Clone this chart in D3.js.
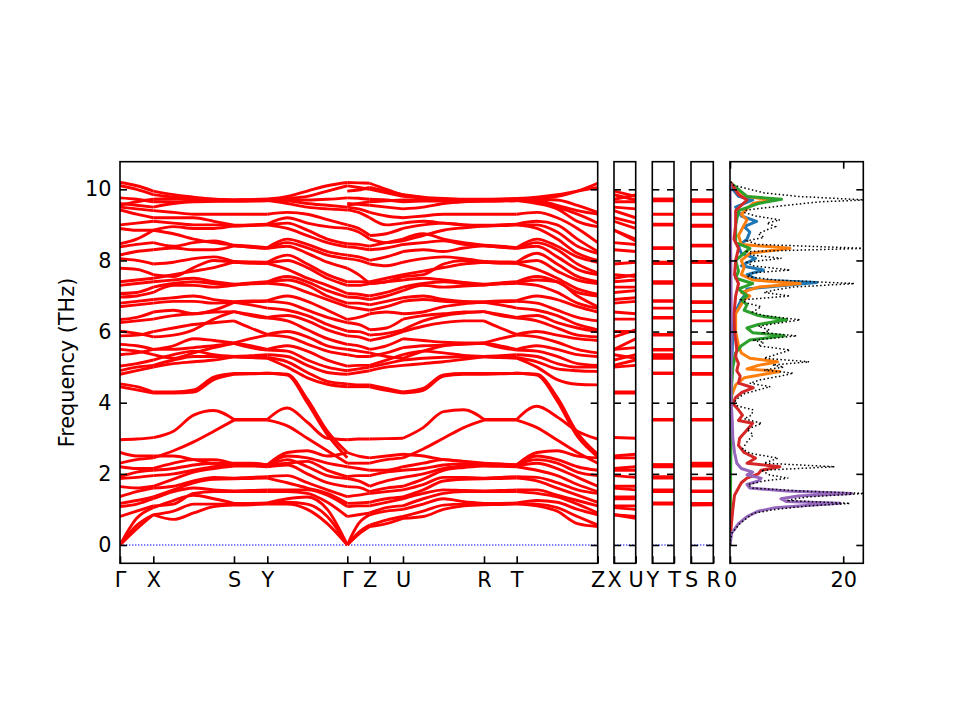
<!DOCTYPE html>
<html><head><meta charset="utf-8">
<script src="https://cdn.jsdelivr.net/npm/d3@7"></script>
<style>
body{margin:0;background:#fff}
svg{display:block}
</style>
</head><body>
<svg id="chart" width="960" height="720"></svg>
<script>
// ---------------- DATA ----------------
const pathLabels = ["Γ","X","S","Y","Γ","Z","U","R","T","Z"];
const pathTicks  = [0, 0.0697, 0.2386, 0.3084, 0.4758, 0.5227, 0.5924, 0.7620, 0.8304, 1.0];
const freqTicks  = [0, 2, 4, 6, 8, 10];
const dosTicks   = [0, 20];
const dosTickLabels = ["0", "20"];

// k-grid of the first half (Γ-X-S-Y-Γ) and the second half (Γ-Z-U-R-T-Z)
const kLeft  = [0, 0.0349, 0.0697, 0.1119, 0.1542, 0.1964, 0.2386, 0.2735, 0.3084, 0.3503, 0.3921, 0.4340, 0.4758];
const kRight = [0.4758, 0.4993, 0.5227, 0.5576, 0.5924, 0.6348, 0.6772, 0.7196, 0.7620, 0.7962, 0.8304, 0.8728, 0.9152, 0.9576, 1.0];
const segLeft  = [[0,2],[2,6],[6,8],[8,12]];
const segRight = [[0,2],[2,4],[4,8],[8,10],[10,14]];

// phonon bands (THz), first half
const bandsLeft = [
 [0,0.45,0.85,0.72,0.9,1.08,1.12,1.13,1.15,1.15,1.0,0.6,0],
 [0,0.55,0.85,0.95,1.15,1.15,1.15,1.16,1.17,1.2,1.15,0.8,0],
 [0,0.75,1.05,1.25,1.4,1.3,1.17,1.17,1.18,1.3,1.35,1.0,0],
 [0.8,0.95,1.1,1.15,1.45,1.5,1.5,1.5,1.5,1.5,1.45,1.2,0.8],
 [1.08,1.15,1.3,1.5,1.6,1.55,1.52,1.53,1.55,1.55,1.55,1.4,1.08],
 [1.17,1.25,1.35,1.55,1.75,1.85,1.86,1.87,1.88,1.75,1.6,1.45,1.17],
 [1.36,1.5,1.6,1.65,1.8,1.9,1.88,1.9,1.92,1.95,1.75,1.55,1.36],
 [1.64,1.6,1.65,1.85,2.05,2.15,2.22,2.22,2.2,2.25,2.0,1.75,1.64],
 [1.87,1.9,1.95,2.0,2.1,2.2,2.25,2.24,2.22,2.4,2.2,1.95,1.87],
 [1.92,2.05,2.1,2.15,2.25,2.3,2.25,2.25,2.25,2.3,2.35,2.1,1.92],
 [2.2,2.15,2.15,2.3,2.4,2.4,2.28,2.27,2.25,2.5,2.45,2.3,2.2],
 [2.3,2.4,2.45,2.65,2.9,3.2,3.51,3.51,3.51,3.35,3.0,2.65,2.3],
 [2.6,2.5,2.5,2.5,2.4,2.3,2.3,2.3,2.25,2.6,2.65,2.5,2.6],
 [2.96,2.98,3.02,3.2,3.65,3.78,3.53,3.53,3.53,3.85,3.45,3.0,2.96],
 [4.45,4.36,4.27,4.27,4.3,4.65,4.8,4.81,4.83,4.78,4.0,3.1,2.45],
 [4.53,4.45,4.3,4.3,4.36,4.72,4.82,4.82,4.83,4.8,4.1,3.2,2.6],
 [4.8,4.9,5.0,5.1,5.15,5.2,5.29,5.27,5.25,5.0,4.7,4.52,4.45],
 [4.9,5.0,5.05,5.2,5.3,5.3,5.29,5.28,5.27,5.15,4.85,4.6,4.53],
 [5.03,5.1,5.2,5.35,5.45,5.35,5.3,5.32,5.35,5.3,5.05,4.85,4.8],
 [5.35,5.4,5.5,5.5,5.55,5.6,5.67,5.55,5.48,5.45,5.2,5.0,4.9],
 [5.5,5.45,5.35,5.25,5.4,5.55,5.67,5.6,5.5,5.6,5.45,5.2,5.03],
 [5.64,5.6,5.5,5.6,5.8,5.75,5.68,5.8,5.9,5.85,5.65,5.45,5.35],
 [5.88,5.9,6.0,6.1,6.2,6.25,6.3,6.1,5.92,6.0,5.85,5.6,5.5],
 [6.01,5.95,5.85,5.9,6.05,6.35,6.56,6.45,6.38,6.3,6.05,5.8,5.64],
 [6.25,6.3,6.35,6.45,6.5,6.55,6.56,6.48,6.4,6.45,6.3,6.05,5.88],
 [6.34,6.4,6.55,6.6,6.5,6.6,6.82,6.75,6.66,6.6,6.45,6.2,6.01],
 [6.7,6.75,6.8,6.85,6.85,6.8,6.82,6.84,6.85,6.8,6.6,6.4,6.25],
 [6.8,6.85,6.9,6.95,7.0,6.9,6.84,6.86,6.87,7.0,6.85,6.6,6.34],
 [6.97,7.0,7.1,7.3,7.3,7.25,7.31,7.34,7.36,7.3,7.1,6.9,6.7],
 [7.07,7.1,7.25,7.35,7.4,7.35,7.31,7.35,7.38,7.45,7.3,7.0,6.8],
 [7.3,7.35,7.4,7.45,7.5,7.4,7.33,7.37,7.4,7.55,7.4,7.15,6.97],
 [7.4,7.45,7.5,7.6,7.7,7.8,7.95,7.93,7.92,7.75,7.5,7.3,7.07],
 [7.78,7.75,7.6,7.55,7.8,8.0,7.95,7.93,7.92,8.0,7.8,7.5,7.3],
 [8.05,8.0,7.9,7.95,8.05,8.1,7.97,7.96,7.95,8.15,7.9,7.6,7.4],
 [8.15,8.25,8.3,8.35,8.3,8.3,8.41,8.37,8.34,8.4,8.2,7.95,7.78],
 [8.38,8.45,8.5,8.4,8.5,8.55,8.41,8.38,8.34,8.5,8.35,8.15,8.05],
 [8.47,8.6,8.85,8.75,8.6,8.5,8.43,8.4,8.36,8.6,8.45,8.25,8.15],
 [8.9,8.85,8.85,8.95,8.9,8.9,8.97,8.98,9.0,8.9,8.7,8.5,8.38],
 [9.0,9.05,9.1,9.05,9.0,9.0,8.97,8.99,9.0,9.05,8.85,8.6,8.47],
 [9.42,9.3,9.2,9.2,9.2,9.1,8.99,9.0,9.02,9.2,9.05,8.95,8.9],
 [9.5,9.45,9.4,9.35,9.3,9.3,9.3,9.3,9.3,9.35,9.3,9.15,9.0],
 [9.6,9.55,9.5,9.6,9.65,9.66,9.67,9.67,9.68,9.6,9.5,9.45,9.42],
 [9.76,9.72,9.65,9.65,9.66,9.67,9.67,9.68,9.7,9.68,9.6,9.55,9.5],
 [10.1,10.0,9.85,9.78,9.72,9.7,9.68,9.69,9.7,9.72,9.7,9.72,9.76],
 [10.19,10.1,9.95,9.85,9.78,9.72,9.7,9.71,9.72,9.75,9.8,9.95,10.1],
 [9.55,9.65,9.72,9.74,9.74,9.72,9.7,9.71,9.72,9.8,9.95,10.1,10.19]
];

// phonon bands (THz), second half
const bandsRight = [
 [0,0.3,0.52,0.6,0.75,0.8,1.0,1.1,1.13,1.14,1.15,1.1,0.95,0.6,0.52],
 [0,0.35,0.56,0.7,0.8,0.95,1.12,1.15,1.15,1.16,1.17,1.15,1.05,0.8,0.56],
 [0,0.6,0.85,0.95,1.0,1.15,1.3,1.22,1.17,1.17,1.18,1.25,1.2,1.0,0.85],
 [0.8,0.85,0.9,1.05,1.1,1.3,1.45,1.5,1.5,1.5,1.5,1.45,1.35,1.15,0.9],
 [1.08,1.1,1.1,1.2,1.3,1.45,1.55,1.53,1.52,1.53,1.55,1.55,1.4,1.25,1.1],
 [1.17,1.18,1.2,1.3,1.35,1.55,1.8,1.85,1.86,1.87,1.88,1.8,1.6,1.4,1.2],
 [1.36,1.4,1.45,1.5,1.55,1.7,1.9,1.9,1.88,1.9,1.92,1.9,1.75,1.55,1.45],
 [1.64,1.62,1.5,1.6,1.65,1.85,2.1,2.18,2.22,2.21,2.2,2.1,1.95,1.7,1.5],
 [1.87,1.8,1.65,1.8,1.9,2.0,2.15,2.22,2.25,2.24,2.22,2.3,2.15,1.9,1.65],
 [1.92,1.95,1.95,2.05,2.1,2.15,2.25,2.28,2.25,2.25,2.25,2.4,2.3,2.05,1.95],
 [2.2,2.15,2.1,2.1,2.2,2.3,2.4,2.35,2.28,2.27,2.25,2.5,2.4,2.2,2.1],
 [2.3,2.3,2.3,2.4,2.45,2.7,3.0,3.3,3.51,3.51,3.51,3.3,2.95,2.6,2.3],
 [2.6,2.5,2.45,2.5,2.55,2.5,2.4,2.35,2.3,2.28,2.25,2.6,2.65,2.5,2.45],
 [2.96,2.98,2.98,2.99,3.0,3.3,3.75,3.8,3.53,3.53,3.53,3.9,3.6,3.2,2.98],
 [4.45,4.45,4.45,4.35,4.27,4.35,4.75,4.8,4.8,4.81,4.83,4.78,4.05,3.05,2.48],
 [4.53,4.5,4.5,4.4,4.3,4.4,4.78,4.82,4.82,4.82,4.83,4.8,4.15,3.15,2.55],
 [4.8,4.85,4.9,5.0,5.05,5.1,5.15,5.22,5.29,5.27,5.25,5.0,4.65,4.52,4.5],
 [4.9,4.95,5.0,5.1,5.2,5.25,5.28,5.29,5.29,5.28,5.27,5.15,4.95,4.9,4.88],
 [5.03,5.05,5.05,5.2,5.35,5.45,5.4,5.33,5.3,5.32,5.35,5.3,5.1,5.0,5.0],
 [5.35,5.3,5.3,5.4,5.55,5.6,5.62,5.65,5.67,5.55,5.48,5.45,5.3,5.1,5.05],
 [5.5,5.45,5.4,5.3,5.25,5.45,5.6,5.65,5.67,5.6,5.5,5.6,5.5,5.35,5.3],
 [5.64,5.6,5.5,5.6,5.8,5.75,5.7,5.68,5.68,5.8,5.9,5.85,5.7,5.5,5.4],
 [5.88,5.85,5.75,5.85,6.0,6.15,6.25,6.3,6.3,6.1,5.92,6.0,5.9,5.8,5.75],
 [6.01,6.0,5.9,5.95,6.05,6.3,6.45,6.52,6.56,6.45,6.38,6.3,6.1,5.9,5.85],
 [6.25,6.2,6.05,6.1,6.35,6.45,6.5,6.55,6.56,6.48,6.4,6.45,6.25,6.1,6.0],
 [6.34,6.4,6.5,6.55,6.5,6.55,6.7,6.78,6.82,6.75,6.66,6.6,6.45,6.2,6.05],
 [6.7,6.65,6.6,6.7,6.85,6.9,6.85,6.82,6.82,6.84,6.85,6.8,6.6,6.4,6.3],
 [6.8,6.8,6.75,6.85,6.95,7.0,6.9,6.85,6.84,6.86,6.87,7.0,6.9,6.7,6.55],
 [6.97,6.95,6.9,7.0,7.15,7.3,7.25,7.28,7.31,7.34,7.36,7.3,7.1,6.8,6.65],
 [7.07,7.05,7.0,7.1,7.25,7.35,7.4,7.35,7.31,7.35,7.38,7.45,7.4,7.0,6.7],
 [7.3,7.3,7.35,7.4,7.45,7.5,7.45,7.38,7.33,7.37,7.4,7.55,7.4,7.1,7.0],
 [7.4,7.4,7.4,7.5,7.6,7.7,7.8,7.9,7.95,7.93,7.92,7.75,7.5,7.2,7.05],
 [7.78,7.6,7.35,7.4,7.55,7.6,7.9,8.0,7.95,7.93,7.92,8.0,7.7,7.45,7.35],
 [8.05,8.0,7.9,7.85,7.95,8.05,8.1,8.05,7.97,7.96,7.95,8.2,7.9,7.55,7.4],
 [8.15,8.1,8.0,8.1,8.25,8.3,8.25,8.35,8.41,8.37,8.34,8.4,8.1,7.75,7.6],
 [8.38,8.35,8.3,8.35,8.45,8.5,8.55,8.45,8.41,8.38,8.34,8.5,8.3,7.9,7.65],
 [8.47,8.45,8.4,8.5,8.6,8.75,8.6,8.5,8.43,8.4,8.36,8.6,8.4,8.1,7.95],
 [8.9,8.8,8.6,8.5,8.55,8.7,8.85,8.92,8.97,8.98,9.0,8.9,8.6,8.2,8.0],
 [9.0,8.9,8.7,8.75,8.9,9.0,9.05,9.0,8.97,8.99,9.0,9.0,8.8,8.4,8.2],
 [9.42,9.35,9.2,9.0,9.05,9.1,9.05,9.0,8.99,9.0,9.02,9.1,9.0,8.6,8.25],
 [9.5,9.45,9.35,9.25,9.2,9.25,9.3,9.3,9.3,9.3,9.3,9.35,9.2,8.9,8.5],
 [9.6,9.58,9.55,9.5,9.45,9.5,9.6,9.65,9.67,9.67,9.68,9.6,9.45,9.1,8.95],
 [9.76,9.75,9.72,9.7,9.65,9.67,9.67,9.67,9.67,9.68,9.7,9.65,9.5,9.3,9.05],
 [9.55,9.6,9.65,9.68,9.7,9.7,9.69,9.68,9.68,9.69,9.7,9.68,9.55,9.4,9.3],
 [10.1,10.05,10.0,9.9,9.8,9.75,9.72,9.7,9.7,9.71,9.72,9.72,9.7,9.55,9.35],
 [10.19,10.18,10.17,10.0,9.84,9.76,9.72,9.71,9.7,9.71,9.72,9.75,9.8,9.95,10.17],
 [9.95,9.98,10.05,9.95,9.85,9.78,9.74,9.72,9.72,9.73,9.74,9.78,9.85,9.95,10.05]
];

// the three short segments: labels and the columns (first half, second half) they join
const panelLabels = [["X","U"],["Y","T"],["S","R"]];
const panelCols   = [[2,4],[8,10],[6,8]];

// density of states: [frequency (THz), states]
const dosTotal = [[0,0],[0.14,0.1],[0.33,0.3],[0.61,1.8],[0.89,4.1],[1.0,8],[1.1,14],[1.17,21.2],[1.25,10],[1.35,13.5],[1.45,24],[1.52,12],[1.6,4],[1.7,3.2],[1.8,6],[1.88,10.3],[1.97,7],[2.1,5.5],[2.2,18.5],[2.3,6],[2.44,8.5],[2.58,3.5],[2.7,2.2],[2.9,3],[3.1,4.1],[3.25,3],[3.42,5.6],[3.55,2.5],[3.65,3.8],[3.8,4.1],[3.9,1.5],[3.98,0.6],[4.1,1.2],[4.25,2.5],[4.36,5],[4.45,7.1],[4.55,3.5],[4.65,5.5],[4.75,9],[4.83,11.2],[4.92,6],[5.0,9.5],[5.06,7.5],[5.15,14],[5.25,6],[5.35,8],[5.48,10.6],[5.6,5],[5.7,6],[5.76,4],[5.88,11.8],[5.97,6],[6.04,7],[6.15,5],[6.33,12.4],[6.45,6],[6.55,4],[6.7,5.5],[6.8,3],[6.89,2],[7.0,10.6],[7.1,6],[7.17,8],[7.25,11],[7.35,22],[7.45,8],[7.55,3],[7.65,4],[7.73,10.6],[7.85,4],[7.95,3],[8.06,9.1],[8.15,4],[8.25,3],[8.34,24],[8.45,5],[8.55,3],[8.65,6],[8.75,5],[8.86,6.5],[8.95,8],[9.05,6.5],[9.14,8.8],[9.25,4.5],[9.35,2.5],[9.42,3],[9.55,10],[9.65,16],[9.7,24],[9.8,12],[9.9,6],[10.0,3.5],[10.12,0.5],[10.25,0]];
const dosA = [[0,0],[4,0.1],[5,0.3],[6,0.5],[6.5,0.8],[6.9,2],[7.0,2.5],[7.2,3],[7.3,10],[7.38,15.3],[7.45,5],[7.6,3],[7.73,5.9],[7.85,2],[8.06,4.5],[8.2,2],[8.4,1.5],[8.6,3],[8.8,3.5],[8.95,2.5],[9.1,4.7],[9.25,2],[9.5,1],[9.7,4],[9.8,1.5],[10.0,0.5],[10.2,0]];
const dosB = [[0,0],[3.5,0.1],[4.2,0.3],[4.5,1],[4.7,2.5],[4.8,6],[4.88,8.8],[4.95,3],[5.05,5],[5.15,8.4],[5.25,3.5],[5.4,2],[5.6,1.5],[6.0,1],[6.5,1],[6.9,2.5],[7.0,3.5],[7.1,2],[7.25,5],[7.35,12.4],[7.45,4],[7.6,2],[7.8,2.5],[8.0,2],[8.2,3.5],[8.34,10.6],[8.45,2],[8.7,1.5],[9.0,2.5],[9.14,3],[9.3,2],[9.6,4],[9.7,7],[9.8,3],[10.0,1],[10.2,0]];
const dosC = [[0,0],[3.5,0.2],[4.5,0.3],[5.0,0.5],[5.4,1],[5.6,2],[5.76,3.5],[5.88,9.6],[5.97,4],[6.1,3],[6.2,5],[6.33,10],[6.45,5],[6.6,2.5],[6.75,3],[6.9,2],[7.0,3],[7.2,1.5],[7.35,4],[7.5,1],[7.7,1.5],[8.0,1],[8.34,3.5],[8.5,1],[9.0,1],[9.4,1.5],[9.6,5],[9.72,9.1],[9.8,3],[10.0,1.5],[10.2,0]];
const dosD = [[0,0],[0.5,0.2],[1.0,0.5],[1.4,0.8],[1.6,1.5],[1.75,2],[1.88,3],[2.0,5],[2.1,5.5],[2.2,8.8],[2.3,3],[2.44,4.5],[2.6,2.5],[2.8,1.5],[3.0,1.7],[3.2,2.8],[3.42,4],[3.5,1.5],[3.65,2.2],[3.8,1.5],[3.98,0.5],[4.15,1],[4.3,2.2],[4.42,4.1],[4.55,1.5],[4.75,1.8],[4.9,1.2],[5.1,1.5],[5.3,1],[5.5,1.2],[6.0,0.8],[6.5,0.7],[7.0,1],[7.35,1.5],[7.6,0.8],[8.0,1],[8.34,1.5],[8.6,0.7],[9.0,1],[9.4,1],[9.7,3],[9.85,1.5],[10.1,0.5],[10.2,0]];
const dosE = [[0,0],[0.33,0.3],[0.6,1.5],[0.8,3],[0.95,5],[1.05,8],[1.12,14],[1.17,19.5],[1.22,10],[1.3,9],[1.38,12],[1.45,21.5],[1.52,10],[1.6,3.5],[1.7,3],[1.8,5],[1.88,5.5],[1.97,3],[2.05,4],[2.15,2],[2.3,1.2],[2.6,0.8],[3.0,0.5],[3.5,0.4],[4.0,0.2],[5,0.2],[7,0.2],[10.2,0]];

// ---------------- LAYOUT ----------------
const FONT = "DejaVu Sans";
const FS = 20.8;
const yTop = 161.7, yBot = 563.3;
const y = d3.scaleLinear().domain([-0.515, 10.776]).range([yBot, yTop]);
const svg = d3.select("#chart");
const mainBox = [120, 597.7];
const panelBoxes = [[614, 635.7], [652.3, 674], [691, 713.3]];
const dosBox = [730, 863.3];
const defs = svg.append("defs");

function clipFor(id, x0, x1) {
  defs.append("clipPath").attr("id", id).append("rect")
    .attr("x", x0).attr("y", yTop).attr("width", x1 - x0).attr("height", yBot - yTop);
  return svg.append("g").attr("clip-path", `url(#${id})`);
}
function styleAxis(a) {
  a.select(".domain").remove();
  a.selectAll("line").attr("stroke", "#000").attr("stroke-width", 1.6);
  a.attr("font-family", FONT).attr("font-size", FS);
  a.selectAll("text").attr("fill", "#000");
}
function yAxes(x0, x1, withLabels) {
  const l = svg.append("g").attr("transform", `translate(${x0},0)`)
    .call(d3.axisLeft(y).tickValues(freqTicks).tickSizeInner(-7).tickSizeOuter(0).tickPadding(8.5)
      .tickFormat(withLabels ? d3.format("d") : () => ""));
  styleAxis(l);
  const r = svg.append("g").attr("transform", `translate(${x1},0)`)
    .call(d3.axisRight(y).tickValues(freqTicks).tickSizeInner(-7).tickSizeOuter(0).tickFormat(() => ""));
  styleAxis(r);
}
function frame(x0, x1) {
  svg.append("rect").attr("x", x0).attr("y", yTop).attr("width", x1 - x0).attr("height", yBot - yTop)
    .attr("fill", "none").attr("stroke", "#000").attr("stroke-width", 1.6);
}
function zeroLine(g, x0, x1) {
  g.append("line").attr("x1", x0).attr("x2", x1).attr("y1", y(0)).attr("y2", y(0))
    .attr("stroke", "#0000ff").attr("stroke-width", 1.1).attr("stroke-dasharray", "1.4,1.6");
}

// ---------------- MAIN BAND PANEL ----------------
const xMain = d3.scaleLinear().domain([0, 1]).range(mainBox);
const gMain = clipFor("clipMain", mainBox[0], mainBox[1]);
zeroLine(gMain, mainBox[0], mainBox[1]);
const bandLine = d3.line().x(d => xMain(d[0])).y(d => y(d[1])).curve(d3.curveMonotoneX);
function drawHalf(bands, ks, segs) {
  bands.forEach(b => segs.forEach(([a, e]) => {
    const pts = d3.range(a, e + 1).map(i => [ks[i], b[i]]);
    gMain.append("path").attr("d", bandLine(pts)).attr("fill", "none")
      .attr("stroke", "#ff0000").attr("stroke-width", 2.9).attr("stroke-linejoin", "round");
  }));
}
drawHalf(bandsLeft, kLeft, segLeft);
drawHalf(bandsRight, kRight, segRight);
yAxes(mainBox[0], mainBox[1], true);
const bx = svg.append("g").attr("transform", `translate(0,${yBot})`)
  .call(d3.axisBottom(xMain).tickValues(pathTicks).tickFormat((d, i) => pathLabels[i])
    .tickSizeInner(-7).tickSizeOuter(0).tickPadding(9));
styleAxis(bx);
frame(mainBox[0], mainBox[1]);

svg.append("text").attr("transform", `translate(74,${(yTop + yBot) / 2}) rotate(-90)`)
  .attr("text-anchor", "middle").attr("font-family", FONT).attr("font-size", FS)
  .attr("fill", "#000").text("Frequency (THz)");

// ---------------- SHORT SEGMENT PANELS ----------------
panelBoxes.forEach((box, p) => {
  const xp = d3.scaleLinear().domain([0, 1]).range(box);
  const g = clipFor("clipP" + p, box[0], box[1]);
  zeroLine(g, box[0], box[1]);
  const [cl, cr] = panelCols[p];
  const n = Math.min(bandsLeft.length, bandsRight.length);
  const ln = d3.line().x(d => xp(d[0])).y(d => y(d[1]));
  for (let i = 0; i < n; i++) {
    g.append("path").attr("d", ln([[0, bandsLeft[i][cl]], [1, bandsRight[i][cr]]]))
      .attr("fill", "none").attr("stroke", "#ff0000").attr("stroke-width", 2.9);
  }
  yAxes(box[0], box[1], false);
  const a = svg.append("g").attr("transform", `translate(0,${yBot})`)
    .call(d3.axisBottom(xp).tickValues([0, 1]).tickFormat((d, i) => panelLabels[p][i])
      .tickSizeInner(-7).tickSizeOuter(0).tickPadding(9));
  styleAxis(a);
  frame(box[0], box[1]);
});

// ---------------- DOS PANEL ----------------
const xDos = d3.scaleLinear().domain([0, 23.55]).range(dosBox);
const gDos = clipFor("clipDos", dosBox[0], dosBox[1]);
const dosLine = d3.line().x(d => xDos(d[1])).y(d => y(d[0]));
const partials = [dosA, dosB, dosC, dosD, dosE];
const partialColors = ["#1f77b4", "#ff7f0e", "#2ca02c", "#d62728", "#9467bd"];
partials.forEach((s, i) => {
  gDos.append("path").attr("d", dosLine(s)).attr("fill", "none")
    .attr("stroke", partialColors[i]).attr("stroke-width", 3).attr("stroke-linejoin", "round");
});
gDos.append("path").attr("d", dosLine(dosTotal)).attr("fill", "none")
  .attr("stroke", "#000").attr("stroke-width", 1.5).attr("stroke-dasharray", "1.5,2.4");
yAxes(dosBox[0], dosBox[1], false);
const dbx = svg.append("g").attr("transform", `translate(0,${yBot})`)
  .call(d3.axisBottom(xDos).tickValues(dosTicks).tickFormat((d, i) => dosTickLabels[i])
    .tickSizeInner(-7).tickSizeOuter(0).tickPadding(9));
styleAxis(dbx);
const dtx = svg.append("g").attr("transform", `translate(0,${yTop})`)
  .call(d3.axisTop(xDos).tickValues(dosTicks).tickFormat(() => "").tickSizeInner(-7).tickSizeOuter(0));
styleAxis(dtx);
frame(dosBox[0], dosBox[1]);
</script>
</body></html>
